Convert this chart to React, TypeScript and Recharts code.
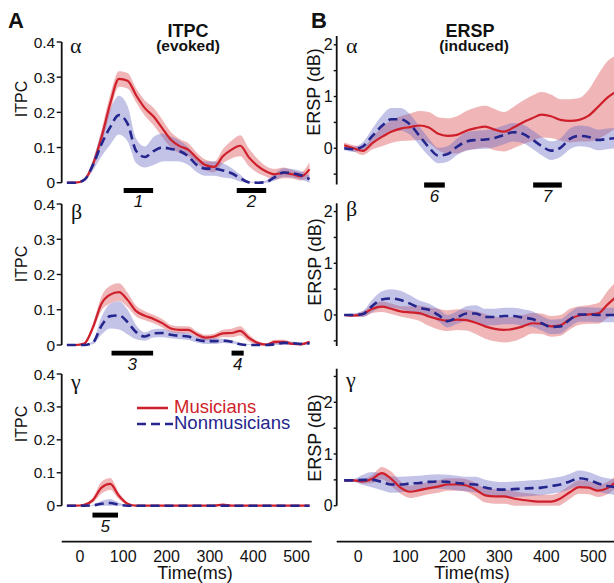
import React from "react";
import { Area, ComposedChart, Line, ReferenceArea, XAxis, YAxis } from "recharts";

const W = 614;
const H = 583;
const YW = 40;

const RED = "#cf1f2b";
const BLUE = "#25258e";
const RED_BAND = "#d8454b";
const BLUE_BAND = "#6a6ac4";

// time samples (ms)
const T_LEFT = [-30, -10, 10, 30, 50, 70, 90, 110, 130, 150, 170, 190, 210, 230, 250, 270, 290, 310, 330, 350, 370, 390, 410, 430, 450, 470, 490, 510, 530];
const T_RIGHT = [-30, -10, 10, 30, 50, 70, 90, 110, 130, 150, 170, 190, 210, 230, 250, 270, 290, 310, 330, 350, 370, 390, 410, 430, 450, 470, 490, 510, 530, 550];

// ITPC alpha
const ITPC_A_MUS = [0, 0, 0.008, 0.052, 0.13, 0.225, 0.295, 0.29, 0.248, 0.212, 0.188, 0.155, 0.122, 0.104, 0.094, 0.07, 0.05, 0.045, 0.075, 0.094, 0.105, 0.072, 0.048, 0.032, 0.024, 0.028, 0.024, 0.018, 0.038];
const ITPC_A_MUS_ERR = [0, 0, 0.003, 0.01, 0.02, 0.025, 0.022, 0.022, 0.02, 0.022, 0.025, 0.025, 0.022, 0.02, 0.018, 0.015, 0.015, 0.015, 0.02, 0.025, 0.03, 0.025, 0.02, 0.015, 0.015, 0.015, 0.012, 0.012, 0.02];
const ITPC_A_NON = [0, 0, 0.008, 0.05, 0.11, 0.158, 0.192, 0.168, 0.09, 0.073, 0.09, 0.1, 0.096, 0.09, 0.075, 0.05, 0.04, 0.04, 0.035, 0.027, 0.013, 0.001, 0, 0.002, 0.016, 0.029, 0.027, 0.021, 0.01];
const ITPC_A_NON_ERR = [0, 0, 0.003, 0.015, 0.035, 0.05, 0.055, 0.05, 0.035, 0.03, 0.04, 0.04, 0.035, 0.03, 0.025, 0.02, 0.02, 0.02, 0.02, 0.015, 0.01, 0.003, 0.002, 0.005, 0.01, 0.012, 0.012, 0.012, 0.01];

// ITPC beta
const ITPC_B_MUS = [0, 0, 0.004, 0.05, 0.118, 0.143, 0.15, 0.128, 0.096, 0.083, 0.074, 0.062, 0.047, 0.043, 0.043, 0.03, 0.021, 0.024, 0.033, 0.034, 0.04, 0.02, 0.006, 0.001, 0.009, 0.009, 0.003, 0.002, 0.009];
const ITPC_B_MUS_ERR = [0, 0, 0.003, 0.01, 0.02, 0.025, 0.025, 0.02, 0.015, 0.013, 0.012, 0.012, 0.01, 0.01, 0.01, 0.008, 0.008, 0.008, 0.01, 0.012, 0.013, 0.01, 0.005, 0.003, 0.006, 0.006, 0.005, 0.004, 0.004];
const ITPC_B_NON = [0, 0, 0, 0.007, 0.055, 0.082, 0.084, 0.065, 0.036, 0.024, 0.033, 0.034, 0.029, 0.026, 0.024, 0.015, 0.011, 0.011, 0.012, 0.009, 0.002, 0, 0, 0, 0.002, 0.006, 0.005, 0.003, 0.005];
const ITPC_B_NON_ERR = [0, 0, 0, 0.005, 0.025, 0.035, 0.04, 0.035, 0.02, 0.012, 0.012, 0.012, 0.01, 0.01, 0.01, 0.008, 0.008, 0.008, 0.006, 0.005, 0.003, 0.002, 0.002, 0.002, 0.004, 0.005, 0.005, 0.004, 0.004];

// ITPC gamma
const ITPC_G_MUS = [0, 0, 0.003, 0.017, 0.055, 0.066, 0.03, 0.006, 0, 0, 0, 0, 0, 0, 0, 0, 0, 0, 0.003, 0, 0, 0, 0, 0, 0, 0, 0, 0, 0];
const ITPC_G_MUS_ERR = [0, 0, 0.002, 0.008, 0.018, 0.018, 0.01, 0.004, 0, 0, 0, 0, 0, 0, 0, 0, 0, 0, 0, 0, 0, 0, 0, 0, 0, 0, 0, 0, 0];
const ITPC_G_NON = [0, 0, 0, 0.001, 0.006, 0.008, 0.003, 0, 0, 0, 0, 0, 0, 0, 0, 0, 0, 0, 0, 0, 0, 0, 0, 0, 0, 0, 0, 0, 0];
const ITPC_G_NON_ERR = [0, 0, 0, 0.002, 0.008, 0.012, 0.006, 0.001, 0, 0, 0, 0, 0, 0, 0, 0, 0, 0, 0, 0, 0, 0, 0, 0, 0, 0, 0, 0, 0];

// ERSP alpha
const ERSP_A_MUS = [0.06, 0.0, -0.05, 0.1, 0.22, 0.32, 0.38, 0.41, 0.44, 0.4, 0.28, 0.24, 0.26, 0.34, 0.39, 0.42, 0.36, 0.32, 0.4, 0.5, 0.58, 0.65, 0.62, 0.55, 0.53, 0.55, 0.63, 0.8, 0.98, 1.1];
const ERSP_A_MUS_ERR = [0.05, 0.06, 0.08, 0.12, 0.18, 0.22, 0.24, 0.26, 0.28, 0.3, 0.32, 0.34, 0.36, 0.38, 0.4, 0.4, 0.4, 0.38, 0.4, 0.42, 0.44, 0.44, 0.42, 0.4, 0.42, 0.42, 0.5, 0.62, 0.7, 0.7];
const ERSP_A_NON = [0, -0.02, 0.04, 0.24, 0.43, 0.56, 0.56, 0.46, 0.24, 0.02, -0.14, -0.11, 0.03, 0.13, 0.16, 0.17, 0.2, 0.26, 0.31, 0.28, 0.17, 0.045, -0.045, 0.01, 0.18, 0.24, 0.22, 0.16, 0.18, 0.2];
const ERSP_A_NON_ERR = [0.04, 0.05, 0.08, 0.14, 0.2, 0.22, 0.22, 0.2, 0.18, 0.17, 0.15, 0.15, 0.16, 0.18, 0.18, 0.18, 0.18, 0.18, 0.18, 0.18, 0.18, 0.18, 0.18, 0.18, 0.2, 0.2, 0.2, 0.2, 0.2, 0.2];

// ERSP beta
const ERSP_B_MUS = [0, -0.01, 0.02, 0.12, 0.16, 0.12, 0.07, 0.05, 0.035, -0.03, -0.08, -0.11, -0.09, -0.1, -0.15, -0.22, -0.27, -0.29, -0.27, -0.22, -0.16, -0.17, -0.22, -0.2, -0.08, -0.01, 0.01, 0.03, 0.2, 0.36];
const ERSP_B_MUS_ERR = [0.02, 0.03, 0.05, 0.08, 0.1, 0.1, 0.1, 0.12, 0.15, 0.18, 0.2, 0.2, 0.2, 0.2, 0.22, 0.24, 0.24, 0.24, 0.24, 0.22, 0.2, 0.2, 0.2, 0.2, 0.2, 0.18, 0.18, 0.2, 0.26, 0.3];
const ERSP_B_NON = [0, 0, 0.02, 0.18, 0.3, 0.32, 0.29, 0.22, 0.14, 0.1, 0.0, -0.12, -0.05, 0.03, 0.03, -0.04, -0.04, -0.02, -0.02, -0.05, -0.08, -0.16, -0.23, -0.22, -0.09, 0.01, 0.01, 0.0, 0.0, 0.0];
const ERSP_B_NON_ERR = [0.02, 0.03, 0.06, 0.12, 0.16, 0.18, 0.18, 0.16, 0.14, 0.12, 0.12, 0.12, 0.12, 0.14, 0.16, 0.16, 0.16, 0.16, 0.16, 0.16, 0.15, 0.14, 0.14, 0.14, 0.14, 0.14, 0.14, 0.14, 0.14, 0.14];

// ERSP gamma
const ERSP_G_MUS = [0.49, 0.49, 0.47, 0.52, 0.63, 0.52, 0.35, 0.27, 0.3, 0.34, 0.37, 0.41, 0.41, 0.39, 0.31, 0.2, 0.18, 0.18, 0.14, 0.11, 0.09, 0.08, 0.08, 0.14, 0.26, 0.36, 0.35, 0.29, 0.34, 0.48];
const ERSP_G_MUS_ERR = [0.02, 0.02, 0.04, 0.08, 0.12, 0.14, 0.12, 0.12, 0.12, 0.12, 0.12, 0.12, 0.12, 0.12, 0.13, 0.14, 0.14, 0.14, 0.14, 0.14, 0.14, 0.13, 0.13, 0.13, 0.13, 0.13, 0.13, 0.12, 0.12, 0.12];
const ERSP_G_NON = [0.49, 0.49, 0.5, 0.5, 0.46, 0.41, 0.41, 0.43, 0.44, 0.46, 0.47, 0.46, 0.44, 0.42, 0.41, 0.35, 0.32, 0.31, 0.32, 0.33, 0.34, 0.35, 0.38, 0.41, 0.47, 0.53, 0.5, 0.43, 0.38, 0.36];
const ERSP_G_NON_ERR = [0.02, 0.03, 0.1, 0.15, 0.16, 0.16, 0.15, 0.14, 0.14, 0.14, 0.14, 0.14, 0.14, 0.14, 0.15, 0.15, 0.15, 0.15, 0.15, 0.15, 0.15, 0.15, 0.15, 0.15, 0.15, 0.15, 0.15, 0.15, 0.15, 0.15];

// significance windows [from, to] (ms) and their numbers
const SIG_ITPC_A = [[101, 169, "1"], [362, 430, "2"]] as const;
const SIG_ITPC_B = [[73, 169, "3"], [350, 378, "4"]] as const;
const SIG_ITPC_G = [[29, 88, "5"]] as const;
const SIG_ERSP_A = [[140, 184, "6"], [372, 433, "7"]] as const;

const LEFT_TICKS = [0, 0.1, 0.2, 0.3, 0.4];
const X_TICKS = [0, 100, 200, 300, 400, 500];

function buildRows(t: number[], mus: number[], musErr: number[], non: number[], nonErr: number[], floor?: number) {
  const lo = (v: number) => (floor === undefined ? v : Math.max(floor, v));
  return t.map((tt, i) => ({
    t: tt,
    mus: mus[i],
    non: non[i],
    musBand: [lo(mus[i] - musErr[i]), mus[i] + musErr[i]],
    nonBand: [lo(non[i] - nonErr[i]), non[i] + nonErr[i]],
  }));
}

type Box = { x0: number; x1: number; y0: number; y1: number };

function Panel(props: {
  rows: any[];
  box: Box;
  xDomain: [number, number];
  yDomain: [number, number];
  yTicks: number[];
  fmt: (v: number) => string;
  bars?: readonly (readonly [number, number, string])[];
  barY?: [number, number];
  fontSize: number;
  tickSize: number;
  tickMargin: number;
  overflow: boolean;
}) {
  const { rows, box, xDomain, yDomain, yTicks, fmt, bars = [], barY = [0, 0], fontSize, tickSize, tickMargin, overflow } = props;
  return (
    <div style={{ position: "absolute", left: 0, top: 0 }}>
      <ComposedChart
        width={W}
        height={H}
        data={rows}
        margin={{ top: box.y0, bottom: H - box.y1, left: box.x0 - YW, right: W - box.x1 }}
      >
        <XAxis type="number" dataKey="t" domain={xDomain} hide allowDataOverflow={overflow} />
        <YAxis
          width={YW}
          type="number"
          domain={yDomain}
          ticks={yTicks}
          interval={0}
          tickFormatter={fmt}
          allowDataOverflow={overflow}
          axisLine={{ stroke: "#111", strokeWidth: 1.8 }}
          tickLine={{ stroke: "#111", strokeWidth: 1.4 }}
          tickSize={tickSize}
          tickMargin={tickMargin}
          tick={{ fill: "#111", fontSize }}
        />
        <Area dataKey="musBand" type="monotone" stroke="none" fill={RED_BAND} fillOpacity={0.4} isAnimationActive={false} />
        <Area dataKey="nonBand" type="monotone" stroke="none" fill={BLUE_BAND} fillOpacity={0.4} isAnimationActive={false} />
        <Line dataKey="mus" type="monotone" stroke={RED} strokeWidth={2.2} dot={false} isAnimationActive={false} />
        <Line dataKey="non" type="monotone" stroke={BLUE} strokeWidth={2.6} strokeDasharray="9 5" dot={false} isAnimationActive={false} />
        {bars.map(([from, to, label]) => (
          <ReferenceArea
            key={label}
            x1={from}
            x2={to}
            y1={barY[0]}
            y2={barY[1]}
            fill="#000"
            fillOpacity={1}
            stroke="none"
            ifOverflow="visible"
            label={{ value: label, position: "bottom", offset: 2, fill: "#111", fontSize: 17, fontStyle: "italic" }}
          />
        ))}
      </ComposedChart>
    </div>
  );
}

function TimeAxis({ rows, x0, x1, domain }: { rows: any[]; x0: number; x1: number; domain: [number, number] }) {
  return (
    <div style={{ position: "absolute", left: 0, top: 0 }}>
      <ComposedChart width={W} height={H} data={rows} margin={{ top: 520, bottom: 11.3, left: x0, right: W - x1 }}>
        <XAxis
          type="number"
          dataKey="t"
          domain={domain}
          ticks={X_TICKS}
          interval={0}
          allowDataOverflow
          axisLine={{ stroke: "#111", strokeWidth: 1.8 }}
          tickLine={false}
          tickSize={0}
          tickMargin={9}
          tick={{ fill: "#111", fontSize: 16 }}
        />
        <YAxis hide />
        <Line dataKey="mus" stroke="none" dot={false} isAnimationActive={false} />
      </ComposedChart>
    </div>
  );
}

const fmtLeft = (v: number) => (v === 0 ? "0" : v.toFixed(1));
const fmtRight = (v: number) => (Number.isInteger(v) ? String(v) : "");

export default function App() {
  const itpcA = buildRows(T_LEFT, ITPC_A_MUS, ITPC_A_MUS_ERR, ITPC_A_NON, ITPC_A_NON_ERR, 0);
  const itpcB = buildRows(T_LEFT, ITPC_B_MUS, ITPC_B_MUS_ERR, ITPC_B_NON, ITPC_B_NON_ERR, 0);
  const itpcG = buildRows(T_LEFT, ITPC_G_MUS, ITPC_G_MUS_ERR, ITPC_G_NON, ITPC_G_NON_ERR, 0);
  const erspA = buildRows(T_RIGHT, ERSP_A_MUS, ERSP_A_MUS_ERR, ERSP_A_NON, ERSP_A_NON_ERR);
  const erspB = buildRows(T_RIGHT, ERSP_B_MUS, ERSP_B_MUS_ERR, ERSP_B_NON, ERSP_B_NON_ERR);
  const erspG = buildRows(T_RIGHT, ERSP_G_MUS, ERSP_G_MUS_ERR, ERSP_G_NON, ERSP_G_NON_ERR);

  const leftX: [number, number] = [-42, 535];
  const rightX: [number, number] = [-46, 544];
  const left = { fmt: fmtLeft, fontSize: 15.5, tickSize: 5, tickMargin: 1.5, xDomain: leftX, yDomain: [0, 0.4] as [number, number], yTicks: LEFT_TICKS, overflow: false };
  const right = { fmt: fmtRight, fontSize: 16, tickSize: 3, tickMargin: 1, xDomain: rightX, overflow: true };

  const greek = { fontFamily: '"Liberation Serif", "DejaVu Serif", serif', fontSize: 22, fill: "#111" };
  const ylab = { fontSize: 16, fill: "#111", textAnchor: "middle" as const, dominantBaseline: "central" as const };
  const ylabR = { ...ylab, fontSize: 18 };

  return (
    <div
      style={{
        position: "absolute",
        left: 0,
        top: 0,
        width: W,
        height: H,
        background: "#fff",
        overflow: "hidden",
        fontFamily: '"Liberation Sans", Arial, sans-serif',
      }}
    >
      <Panel rows={itpcA} box={{ x0: 61.7, x1: 311.7, y0: 42, y1: 182.7 }} bars={SIG_ITPC_A} barY={[-0.015, -0.029]} {...left} />
      <Panel rows={itpcB} box={{ x0: 61.7, x1: 311.7, y0: 204, y1: 345 }} bars={SIG_ITPC_B} barY={[-0.016, -0.03]} {...left} />
      <Panel rows={itpcG} box={{ x0: 61.7, x1: 311.7, y0: 374, y1: 505.7 }} bars={SIG_ITPC_G} barY={[-0.021, -0.036]} {...left} />
      <Panel rows={erspA} box={{ x0: 336.7, x1: 614, y0: 36, y1: 184.5 }} bars={SIG_ERSP_A} barY={[-0.66, -0.76]} yDomain={[-0.7, 2.17]} yTicks={[-0.5, 0, 0.5, 1, 1.5, 2]} {...right} />
      <Panel rows={erspB} box={{ x0: 336.7, x1: 614, y0: 203.3, y1: 346 }} yDomain={[-0.6, 2.16]} yTicks={[-0.5, 0, 0.5, 1, 1.5, 2]} {...right} />
      <Panel rows={erspG} box={{ x0: 336.7, x1: 614, y0: 368.7, y1: 505.7 }} yDomain={[0, 2.65]} yTicks={[0, 0.5, 1, 1.5, 2, 2.5]} {...right} />
      <TimeAxis rows={itpcG} x0={61.7} x1={311.7} domain={leftX} />
      <TimeAxis rows={erspG} x0={336.7} x1={614} domain={rightX} />

      <svg width={W} height={H} style={{ position: "absolute", left: 0, top: 0, pointerEvents: "none" }}>
        <text x={8} y={28} fontSize={22} fontWeight="bold" fill="#111">A</text>
        <text x={311} y={28} fontSize={22} fontWeight="bold" fill="#111">B</text>
        <text x={188} y={36.5} textAnchor="middle" fontSize={18} fontWeight="bold" fill="#111">ITPC</text>
        <text x={188} y={51} textAnchor="middle" fontSize={15.5} fontWeight="bold" fill="#111">(evoked)</text>
        <text x={470} y={36.5} textAnchor="middle" fontSize={18} fontWeight="bold" fill="#111">ERSP</text>
        <text x={474} y={51} textAnchor="middle" fontSize={15.5} fontWeight="bold" fill="#111">(induced)</text>

        <text x={70} y={53} {...greek}>α</text>
        <text x={71} y={219} {...greek}>β</text>
        <text x={71} y={389} {...greek}>γ</text>
        <text x={346} y={53} {...greek}>α</text>
        <text x={346} y={216} {...greek}>β</text>
        <text x={346} y={387} {...greek}>γ</text>

        <text transform="translate(21.5,99) rotate(-90)" {...ylab}>ITPC</text>
        <text transform="translate(21.5,264) rotate(-90)" {...ylab}>ITPC</text>
        <text transform="translate(21.5,424) rotate(-90)" {...ylab}>ITPC</text>
        <text transform="translate(314,92) rotate(-90)" {...ylabR}>ERSP (dB)</text>
        <text transform="translate(315,262) rotate(-90)" {...ylabR}>ERSP (dB)</text>
        <text transform="translate(315,438) rotate(-90)" {...ylabR}>ERSP (dB)</text>

        <text x={195} y={579} textAnchor="middle" fontSize={18} fill="#111">Time(ms)</text>
        <text x={472} y={579} textAnchor="middle" fontSize={18} fill="#111">Time(ms)</text>

        <line x1={137} x2={168} y1={408} y2={408} stroke={RED} strokeWidth={2.5} />
        <text x={174} y={413} fontSize={18.5} fill={RED}>Musicians</text>
        <line x1={137} x2={173} y1={424} y2={424} stroke={BLUE} strokeWidth={2.6} strokeDasharray="9 5" />
        <text x={174} y={429} fontSize={18.5} fill={BLUE}>Nonmusicians</text>
      </svg>
    </div>
  );
}
